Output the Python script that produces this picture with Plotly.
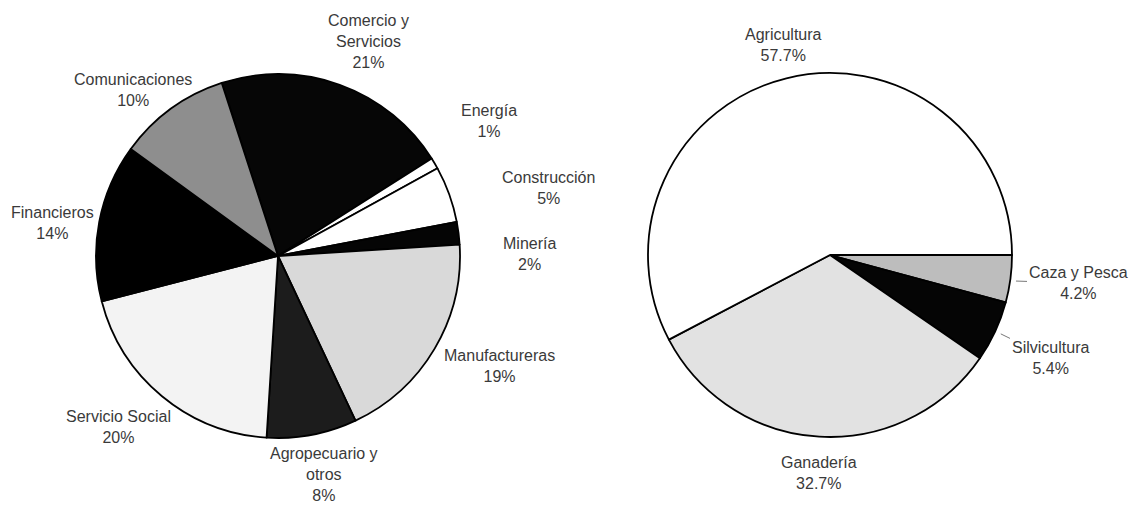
import plotly.graph_objects as go

W, H = 1132, 508

# ---- data: left pie (sectors) ----
sector_labels = ["Comercio y<br>Servicios", "Energía", "Construcción", "Minería",
                 "Manufactureras", "Agropecuario y<br>otros", "Servicio Social",
                 "Financieros", "Comunicaciones"]
sector_values = [21, 1, 5, 2, 19, 8, 20, 14, 10]
sector_colors = ["#060606", "#ffffff", "#ffffff", "#050505", "#d9d9d9",
                 "#1c1c1c", "#f3f3f3", "#000000", "#8e8e8e"]

# ---- data: right pie (agricultural sector) ----
agro_labels = ["Caza y Pesca", "Silvicultura", "Ganadería", "Agricultura"]
agro_values = [4.2, 5.4, 32.7, 57.7]
agro_colors = ["#bdbdbd", "#050505", "#e2e2e2", "#ffffff"]

# label block centres in pixels (layout only)
sector_label_pos = [(368, 42), (489, 121), (548, 188), (529, 254), (500, 366),
                    (324, 474), (118, 427), (52, 223), (133, 90)]
agro_label_pos = [(1078, 283), (1050, 358), (819, 473), (783, 45)]
# leader-line anchors (pixel) for labels that have one
agro_leader = {0: (1014, 281), 1: (999, 333)}

def px(x):
    return x / W

def py(y):
    return 1 - y / H

fig = go.Figure()
fig.add_trace(go.Pie(
    labels=sector_labels, values=sector_values, sort=False, direction="clockwise",
    rotation=-18, textinfo="none", hoverinfo="label+percent",
    marker=dict(colors=sector_colors, line=dict(color="#000000", width=1.8)),
    domain=dict(x=[96 / W, 460 / W], y=[py(438), py(74)]),
    showlegend=False,
))
fig.add_trace(go.Pie(
    labels=agro_labels, values=agro_values, sort=False, direction="clockwise",
    rotation=90, textinfo="none", hoverinfo="label+percent",
    marker=dict(colors=agro_colors, line=dict(color="#000000", width=1.8)),
    domain=dict(x=[648 / W, 1012 / W], y=[py(437), py(73)]),
    showlegend=False,
))

annotations = []
font = dict(family="Liberation Sans, Arial, sans-serif", size=16, color="#3a3a3a")
for lab, val, (x, y) in zip(sector_labels, sector_values, sector_label_pos):
    annotations.append(dict(text=f"{lab}<br>{val}%", x=px(x), y=py(y), xref="paper", yref="paper",
                            xanchor="center", yanchor="middle", showarrow=False, font=font,
                            align="center"))
for i, (lab, val, (x, y)) in enumerate(zip(agro_labels, agro_values, agro_label_pos)):
    txt = f"{lab}<br>{val:.1f}%"
    if i in agro_leader:
        lx, ly = agro_leader[i]
        annotations.append(dict(text=txt, x=px(lx), y=py(ly), xref="paper", yref="paper",
                                ax=x - lx, ay=y - ly, axref="pixel", ayref="pixel",
                                showarrow=True, arrowhead=0, arrowwidth=0.8, arrowcolor="#555555",
                                standoff=2, font=font, align="center"))
    else:
        annotations.append(dict(text=txt, x=px(x), y=py(y), xref="paper", yref="paper",
                                xanchor="center", yanchor="middle", showarrow=False, font=font,
                                align="center"))

fig.update_layout(
    width=W, height=H, margin=dict(l=0, r=0, t=0, b=0),
    paper_bgcolor="#ffffff", plot_bgcolor="#ffffff",
    annotations=annotations,
)
fig.write_html("out.html", config={"displayModeBar": False},
               post_script="document.body.style.margin='0';document.body.style.overflow='hidden';")
